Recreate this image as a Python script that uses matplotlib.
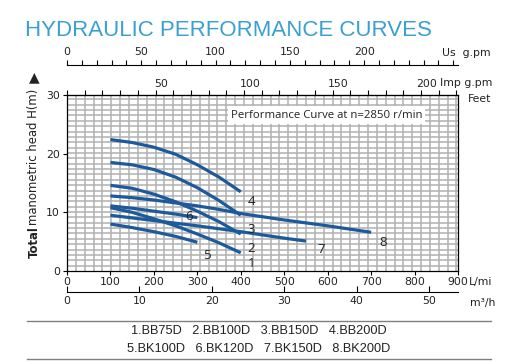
"""Hydraulic performance curves for the BB / BK pump range."""

import matplotlib

matplotlib.use("Agg")
import matplotlib.pyplot as plt
import numpy as np
from matplotlib.transforms import ScaledTranslation

# flow in L/min, head in m
q_bb75 = [100, 150, 200, 250, 300, 350, 400]
h_bb75 = [10.8, 10.0, 8.9, 7.7, 6.3, 4.8, 3.1]
q_bb100 = [100, 150, 200, 250, 300, 350, 400]
h_bb100 = [14.6, 14.1, 13.1, 11.8, 10.2, 8.4, 6.3]
q_bb150 = [100, 150, 200, 250, 300, 350, 400]
h_bb150 = [18.5, 18.1, 17.3, 16.0, 14.2, 12.0, 9.5]
q_bb200 = [100, 150, 200, 250, 300, 350, 400]
h_bb200 = [22.4, 21.9, 21.1, 19.9, 18.1, 16.0, 13.5]
q_bk100 = [100, 150, 200, 250, 300]
h_bk100 = [8.0, 7.4, 6.7, 5.9, 4.9]
q_bk120 = [100, 150, 200, 250, 300]
h_bk120 = [11.1, 10.7, 10.2, 9.7, 9.1]
q_bk150 = [100, 200, 300, 400, 500, 550]
h_bk150 = [9.5, 8.6, 7.7, 6.7, 5.6, 5.1]
q_bk200 = [100, 150, 200, 250, 300, 350, 400, 500, 600, 700]
h_bk200 = [12.8, 12.5, 12.1, 11.6, 11.1, 10.5, 9.8, 8.7, 7.7, 6.6]

curve_ids = ["1", "2", "3", "4", "5", "6", "7", "8"]
models = ["BB75D", "BB100D", "BB150D", "BB200D", "BK100D", "BK120D", "BK150D", "BK200D"]

lmin_ticks = [0, 100, 200, 300, 400, 500, 600, 700, 800, 900]
m3h_ticks = [0, 10, 20, 30, 40, 50]
us_ticks = [0, 50, 100, 150, 200]
imp_ticks = [50, 100, 150, 200]
head_ticks = [0, 10, 20, 30]

curves = [
    (q_bb75, h_bb75), (q_bb100, h_bb100), (q_bb150, h_bb150), (q_bb200, h_bb200),
    (q_bk100, h_bk100), (q_bk120, h_bk120), (q_bk150, h_bk150), (q_bk200, h_bk200),
]
# where each number sits relative to the end of its curve (points)
label_offsets = [(5, -3.2), (5, -5.5), (5, -5.5), (5, -2.5),
                 (4.5, -4.5), (-9, 1), (8, -1.5), (6, -2.5)]

US_GPM = 3.42    # L/min per tick unit as printed on the sheet
IMP_GPM = 4.075
LINE = "#1c5a9c"
INK = "#222222"

W, H = 520, 361
fig = plt.figure(figsize=(W / 100, H / 100), dpi=100)


def px(x, y):
    return x / W, 1 - y / H


left, right, top, bottom = 67, 458, 95, 271
ax = fig.add_axes([left / W, 1 - bottom / H, (right - left) / W, (bottom - top) / H])
ax.set_xlim(0, 900)
ax.set_ylim(0, 30)

# grid: 5 imp gpm vertically, 3 ft horizontally
for x in np.arange(IMP_GPM * 5, 900, IMP_GPM * 5):
    ax.axvline(x, color="#b0b0b0", lw=1.1, zorder=0)
for y in np.arange(0.9144, 30, 0.9144):
    ax.axhline(y, color="#b0b0b0", lw=1.1, zorder=0)

for (q, h), cid, off in zip(curves, curve_ids, label_offsets):
    ax.plot(q, h, color=LINE, lw=2.3, solid_capstyle="butt", zorder=3)
    ax.annotate(cid, (q[-1], h[-1]), xytext=off, textcoords="offset points",
                ha="left", va="top" if off[1] < 0 else "center",
                fontsize=9.5, family="Open Sans", color=INK, zorder=4)

ax.text(0.6637, 0.886, "Performance Curve at n=2850 r/min", transform=ax.transAxes,
        ha="center", va="center", fontsize=8.2, family="Open Sans", color=INK,
        bbox=dict(facecolor="white", edgecolor="none", pad=2.2), zorder=5)

ax.set_xticks(lmin_ticks)
ax.set_yticks(head_ticks)
ax.tick_params(axis="both", direction="out", length=3, width=0.8, labelsize=7.8,
               labelcolor=INK, pad=2)
ax.tick_params(axis="x", pad=1.5)
for s in ax.spines.values():
    s.set_linewidth(0.9)

# imperial gallons on the top spine
imp = ax.secondary_xaxis("top", functions=(lambda q: q / IMP_GPM, lambda g: g * IMP_GPM))
imp.set_xticks(imp_ticks)
imp.set_xticks(np.arange(0, 221, 10), minor=True)
imp.tick_params(which="both", direction="out", length=3.5, width=0.8)
imp.tick_params(labelsize=7.8, labelcolor=INK, pad=1)
for lbl in imp.get_xticklabels():
    lbl.set_transform(lbl.get_transform() + ScaledTranslation(0.06, 0, fig.dpi_scale_trans))

# us gallons, detached above
us = ax.secondary_xaxis((bottom - 65) / (bottom - top),
                        functions=(lambda q: q / US_GPM, lambda g: g * US_GPM))
us.set_xticks(us_ticks)
us.set_xticks(np.arange(0, 261, 10), minor=True)
us.tick_params(which="both", direction="out", length=3.5, width=0.8)
us.tick_params(labelsize=7.8, labelcolor=INK, pad=2)

# m3/h, detached below
m3 = ax.secondary_xaxis(-(291.7 - bottom) / (bottom - top),
                        functions=(lambda q: q * 0.06, lambda m: m / 0.06))
m3.set_xticks(m3h_ticks)
m3.tick_params(direction="in", length=4, width=0.8, labelsize=7.8, labelcolor=INK, pad=3)

fig.text(*px(25, 30), "HYDRAULIC PERFORMANCE CURVES", ha="left", va="center",
         fontsize=16.0, family="Liberation Sans", color="#3a9fd2")
fig.text(*px(442, 53), "Us  g.pm", ha="left", va="center", fontsize=7.8, color=INK)
fig.text(*px(440, 83.5), "Imp g.pm", ha="left", va="center", fontsize=7.8, color=INK)
fig.text(*px(468, 99), "Feet", ha="left", va="center", fontsize=7.8, color=INK)
fig.text(*px(469, 281.5), "L/mi", ha="left", va="center", fontsize=7.8, color=INK)
fig.text(*px(470, 303), "m³/h", ha="left", va="center", fontsize=7.8, color=INK)

# y label: bold "Total" followed by the rest, stacked upwards
total = fig.text(*px(34, 258), "Total", rotation=90, ha="center", va="bottom",
                 fontsize=8.4, fontweight="bold", color=INK)
fig.canvas.draw()
ext = total.get_window_extent()
fig.text(34 / W, ext.y1 / H + 1 / H, "manometric head H(m)", rotation=90,
         ha="center", va="bottom", fontsize=8.4, color=INK)
fig.text(*px(34, 77), "▲", ha="center", va="center", fontsize=10, color=INK)

for y in (320.7, 359.3):
    fig.add_artist(plt.Line2D([27 / W, 491 / W], [1 - y / H] * 2, color="#808080", lw=1))
legend_rows = ["   ".join(f"{c}.{m}" for c, m in zip(curve_ids[:4], models[:4])),
               "   ".join(f"{c}.{m}" for c, m in zip(curve_ids[4:], models[4:]))]
fig.text(*px(259, 330.5), legend_rows[0], ha="center", va="center", fontsize=9.2,
         family="Liberation Sans", color=INK)
fig.text(*px(259, 349.5), legend_rows[1], ha="center", va="center", fontsize=9.2,
         family="Liberation Sans", color=INK)

fig.savefig("out.png", dpi=100)
